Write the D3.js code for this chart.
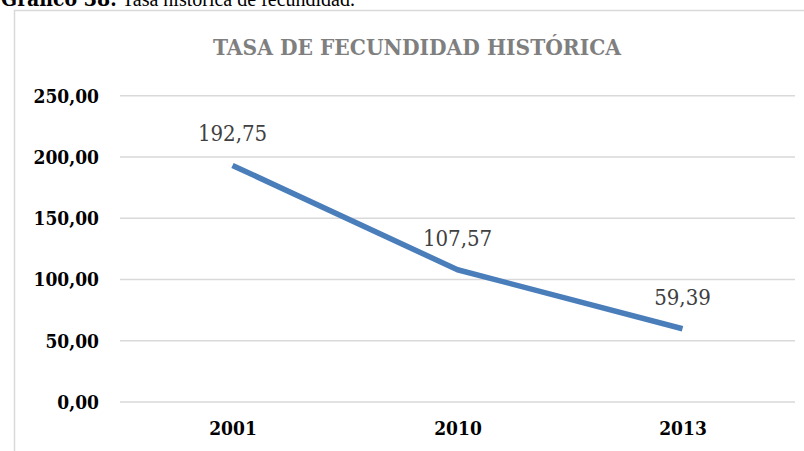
<!DOCTYPE html>
<html>
<head>
<meta charset="utf-8">
<script src="https://cdn.jsdelivr.net/npm/d3@7"></script>
<style>
  html, body { margin: 0; padding: 0; background: #fff; }
  svg { display: block; }
  .serif { font-family: "DejaVu Serif Condensed", "DejaVu Serif", serif; font-stretch: condensed; }
  .caption-text { font-family: "Liberation Serif", "Times New Roman", serif; }
</style>
</head>
<body>
<svg id="chart" width="804" height="451"></svg>
<script>
// Historical fertility rate
const years = ["2001", "2010", "2013"];
const rates = [192.75, 107.57, 59.39];
const yTicks = [0, 50, 100, 150, 200, 250];
const chartTitle = "TASA DE FECUNDIDAD HISTÓRICA";
const captionBold = "Gráfico 38:";
const captionText = "Tasa histórica de fecundidad.";

const fmt = v => d3.format(".2f")(v).replace(".", ",");

const svg = d3.select("#chart");

// Figure caption above the chart frame (its top runs off the page)
const caption = svg.append("g").attr("fill", "#000");
caption.append("text")
  .attr("class", "serif")
  .attr("x", 1).attr("y", 5.5)
  .attr("font-size", 21)
  .attr("font-weight", "bold")
  .text(captionBold);
caption.append("text")
  .attr("class", "caption-text")
  .attr("x", 122).attr("y", 5.5)
  .attr("font-size", 20)
  .text(captionText);

// Chart frame
svg.append("rect")
  .attr("x", 14.5).attr("y", 10.5)
  .attr("width", 820).attr("height", 500)
  .attr("fill", "#fff")
  .attr("stroke", "#d9d9d9")
  .attr("stroke-width", 1.5);

// Title
svg.append("text")
  .attr("class", "serif")
  .attr("x", 417).attr("y", 55)
  .attr("text-anchor", "middle")
  .attr("font-size", 22.5)
  .attr("font-weight", "bold")
  .attr("fill", "#7f7f7f")
  .text(chartTitle);

const plot = { left: 120, right: 795, top: 95.3, bottom: 401.5 };

const x = d3.scalePoint()
  .domain(years)
  .range([plot.left, plot.right])
  .padding(0.5);

const y = d3.scaleLinear()
  .domain([0, 250])
  .range([plot.bottom, plot.top]);

// Horizontal gridlines with value labels
const yAxis = d3.axisLeft(y)
  .tickValues(yTicks)
  .tickSize(-(plot.right - plot.left))
  .tickPadding(21)
  .tickFormat(fmt);

const gy = svg.append("g")
  .attr("transform", `translate(${plot.left},0)`)
  .call(yAxis);
gy.select(".domain").remove();
gy.selectAll(".tick line")
  .attr("stroke", "#d9d9d9")
  .attr("stroke-width", 1.5);
gy.selectAll(".tick text")
  .attr("class", "serif")
  .attr("font-size", 19)
  .attr("font-weight", "bold")
  .attr("fill", "#000")
  .attr("dy", "0.36em");

// Category labels
const xAxis = d3.axisBottom(x).tickSize(0).tickPadding(20);
const gx = svg.append("g")
  .attr("transform", `translate(0,${plot.bottom})`)
  .call(xAxis);
gx.select(".domain").remove();
gx.selectAll(".tick text")
  .attr("class", "serif")
  .attr("font-size", 19)
  .attr("font-weight", "bold")
  .attr("fill", "#000");

// Series line
const data = years.map((yr, i) => ({ year: yr, value: rates[i] }));
const line = d3.line()
  .x(d => x(d.year))
  .y(d => y(d.value));

svg.append("path")
  .datum(data)
  .attr("d", line)
  .attr("fill", "none")
  .attr("stroke", "#4a7ebb")
  .attr("stroke-width", 5.5)
  .attr("stroke-linejoin", "round")
  .attr("stroke-linecap", "butt");

// Value labels
svg.append("g")
  .selectAll("text")
  .data(data)
  .join("text")
  .attr("class", "serif")
  .attr("x", d => x(d.year))
  .attr("y", d => y(d.value) - 24)
  .attr("text-anchor", "middle")
  .attr("font-size", 22)
  .attr("fill", "#404040")
  .text(d => fmt(d.value));
</script>
</body>
</html>
